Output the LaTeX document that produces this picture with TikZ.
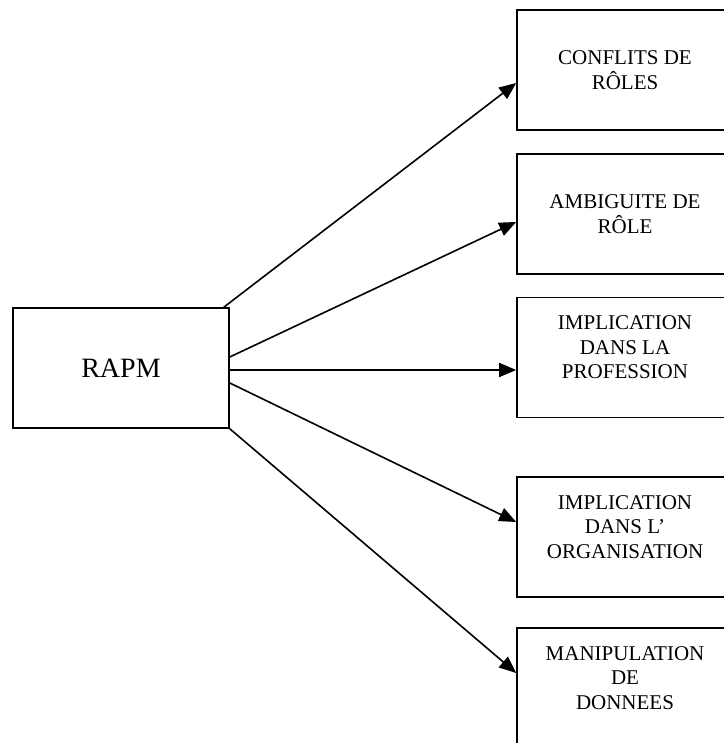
\documentclass[tikz,border=0pt]{standalone}
\usepackage{fontspec}
\setmainfont{Liberation Serif}
\usetikzlibrary{arrows.meta}

\begin{document}
\begin{tikzpicture}[x=1pt,y=1pt,
  box/.style={draw=black,line width=1.6pt,rectangle,minimum width=216pt,minimum height=120pt,
    inner sep=0pt,align=center,font=\fontsize{21}{24.5}\selectfont},
  lowtext/.style={text depth=20pt},
  link/.style={-{Triangle[length=17pt,width=14pt]},line width=1.6pt,black}]
\useasboundingbox (0,0) rectangle (723,743);

% left box
\node[box,font=\fontsize{28}{32}\selectfont] (rapm) at (121,375) {RAPM};

% right boxes
\node[box] (conflits) at (625,673) {CONFLITS DE\\R\^OLES};
\node[box] (ambig) at (625,529) {AMBIGUITE DE\\R\^OLE};
\node[box,lowtext] (profession) at (625,385.5) {IMPLICATION\\DANS LA\\PROFESSION};
\node[box,lowtext] (organisation) at (625,206) {IMPLICATION\\DANS L'\\ORGANISATION};
\node[box,lowtext] (donnees) at (625,55) {MANIPULATION\\DE\\DONNEES};

% arrows
\draw[link] ([xshift=-6pt]rapm.north east) -- ([yshift=-13pt]conflits.west);
\draw[link] ([yshift=11pt]rapm.east) -- ([yshift=-8pt]ambig.west);
\draw[link] ([yshift=-2pt]rapm.east) -- ([yshift=-2pt]rapm.east -| profession.west);
\draw[link] ([yshift=-15pt]rapm.east) -- ([yshift=15pt]organisation.west);
\draw[link] (rapm.south east) -- ([yshift=15pt]donnees.west);

\end{tikzpicture}
\end{document}
